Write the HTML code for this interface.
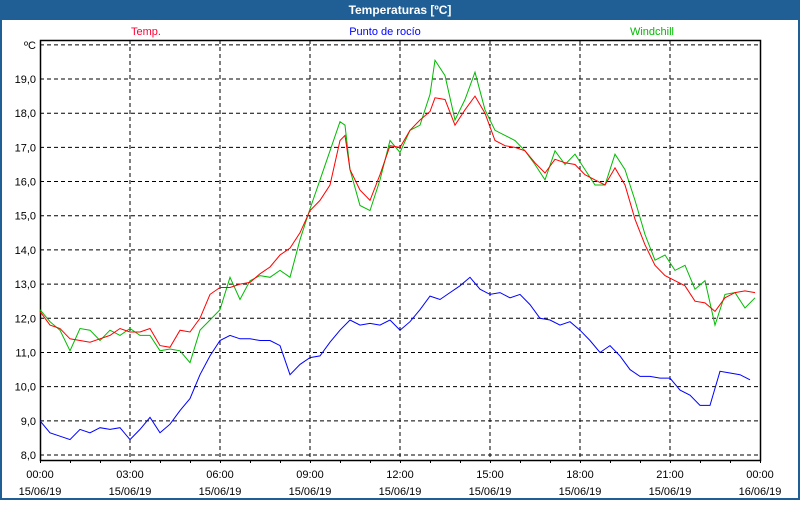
<!DOCTYPE html>
<html><head><meta charset="utf-8"><style>
body{margin:0;width:800px;height:500px;overflow:hidden;background:#fff;font-family:"Liberation Sans","DejaVu Sans",sans-serif}
</style></head><body>
<svg width="800" height="500" xmlns="http://www.w3.org/2000/svg">
<rect x="0" y="0" width="800" height="500" fill="#1f5f96"/>
<rect x="2" y="20" width="796" height="478" fill="#fff"/>
<text x="400" y="14" fill="#fff" font-size="12" font-weight="bold" text-anchor="middle">Temperaturas [ºC]</text>
<text x="146" y="35" fill="#ff0033" font-size="11" text-anchor="middle">Temp.</text>
<text x="385" y="35" fill="#0000ff" font-size="11" text-anchor="middle">Punto de rocío</text>
<text x="652" y="35" fill="#00bb00" font-size="11" text-anchor="middle">Windchill</text>
<g id="grid"></g>
<g id="axes"></g>
<g id="series"></g>
</svg>
<script>
const yTicks=[8,9,10,11,12,13,14,15,16,17,18,19];
const xTickLabels=["00:00","03:00","06:00","09:00","12:00","15:00","18:00","21:00","00:00"];
const xDateLabels=["15/06/19","15/06/19","15/06/19","15/06/19","15/06/19","15/06/19","15/06/19","15/06/19","16/06/19"];
const tempMinutes=[0,20,40,60,80,100,120,140,160,180,200,220,240,260,280,300,320,340,360,380,400,420,440,460,480,500,520,540,560,580,600,610,620,640,660,680,700,720,740,760,780,790,810,830,850,870,890,910,930,950,970,990,1010,1030,1050,1070,1090,1110,1130,1150,1170,1190,1210,1230,1250,1270,1290,1310,1330,1350,1370,1390,1410,1430];
const tempValues=[12.2,11.8,11.7,11.4,11.35,11.3,11.4,11.5,11.7,11.6,11.6,11.7,11.2,11.15,11.65,11.6,12.0,12.7,12.9,12.9,13.0,13.05,13.3,13.5,13.85,14.05,14.5,15.15,15.45,15.9,17.2,17.35,16.35,15.75,15.45,16.2,17.05,17.0,17.5,17.8,18.05,18.45,18.4,17.65,18.1,18.5,18.0,17.2,17.05,17.0,16.9,16.55,16.25,16.65,16.55,16.5,16.2,16.05,15.9,16.4,15.9,14.9,14.15,13.55,13.25,13.1,12.95,12.5,12.45,12.2,12.6,12.75,12.8,12.75];
const windchillValues=[12.25,11.9,11.65,11.05,11.7,11.65,11.35,11.65,11.5,11.7,11.5,11.5,11.05,11.1,11.05,10.7,11.65,11.95,12.25,13.2,12.55,13.1,13.25,13.2,13.4,13.2,14.3,15.2,16.05,16.9,17.75,17.65,16.35,15.3,15.15,16.05,17.2,16.85,17.5,17.65,18.55,19.55,19.1,17.8,18.4,19.2,18.1,17.5,17.35,17.2,16.9,16.5,16.05,16.9,16.5,16.8,16.35,15.9,15.9,16.8,16.35,15.45,14.45,13.7,13.85,13.4,13.55,12.85,13.1,11.8,12.7,12.75,12.3,12.6];
const dewStepMinutes=20;
const dewValues=[9.0,8.65,8.55,8.45,8.75,8.65,8.8,8.75,8.8,8.45,8.75,9.1,8.65,8.9,9.3,9.65,10.35,10.9,11.35,11.5,11.4,11.4,11.35,11.35,11.2,10.35,10.65,10.85,10.9,11.3,11.65,11.95,11.8,11.85,11.8,11.95,11.65,11.9,12.25,12.65,12.55,12.75,12.95,13.2,12.85,12.7,12.75,12.6,12.7,12.4,12.0,11.95,11.8,11.9,11.65,11.35,11.0,11.2,10.9,10.5,10.3,10.3,10.25,10.25,9.9,9.75,9.45,9.45,10.45,10.4,10.35,10.2];
const NS="http://www.w3.org/2000/svg";
const L=40,R=760,T=40,B=460;
function sx(m){return L+(m/1440)*(R-L);}
function sy(v){return 455-(v-8)*34.18;}
function mk(tag,attrs,parent){const e=document.createElementNS(NS,tag);for(const k in attrs)e.setAttribute(k,attrs[k]);parent.appendChild(e);return e;}
const grid=document.getElementById('grid'),axes=document.getElementById('axes'),series=document.getElementById('series');
[...yTicks,20].forEach(v=>{const l=mk('line',{x1:L,x2:R,y1:sy(v),y2:sy(v),stroke:'#000','stroke-dasharray':'4,3','stroke-width':1},grid);

});
yTicks.forEach(v=>{const t=mk('text',{x:36,y:sy(v)+4,'font-size':11,'text-anchor':'end',fill:'#000'},axes);t.textContent=v.toFixed(1).replace('.',',');

});
const u=mk('text',{x:36,y:sy(20)+4,'font-size':11,'text-anchor':'end',fill:'#000'},axes);u.textContent='ºC';


xTickLabels.forEach((s,i)=>{const x=sx(i*180);
if(i>0&&i<8){const g=mk('line',{x1:x,x2:x,y1:T,y2:B,stroke:'#000','stroke-dasharray':'4,3'},grid);

}
const t=mk('text',{x:x,y:478,'font-size':11,'text-anchor':'middle',fill:'#000'},axes);t.textContent=s;


const d=mk('text',{x:x,y:495,'font-size':11,'text-anchor':'middle',fill:'#000'},axes);d.textContent=xDateLabels[i];

});
for(let h=0;h<=24;h++){const x=sx(h*60)+0.5;const k=mk('line',{x1:x,x2:x,y1:B,y2:B+3,stroke:'#000'},axes);

}
const fr=mk('rect',{x:L+0.5,y:T+0.5,width:R-L,height:B-T,fill:'none',stroke:'#000','stroke-width':1.5},axes);


function line(ms,vs,color,name){const p=mk('polyline',{points:vs.map((v,i)=>sx(ms[i]).toFixed(1)+','+sy(v).toFixed(1)).join(' '),fill:'none',stroke:color,'stroke-width':1},series);

}
line(dewValues.map((v,i)=>i*dewStepMinutes),dewValues,'#0000ff','dew-point-line');
line(tempMinutes,windchillValues,'#00bb00','windchill-line');
line(tempMinutes,tempValues,'#ff0000','temp-line');
</script>
</body></html>
